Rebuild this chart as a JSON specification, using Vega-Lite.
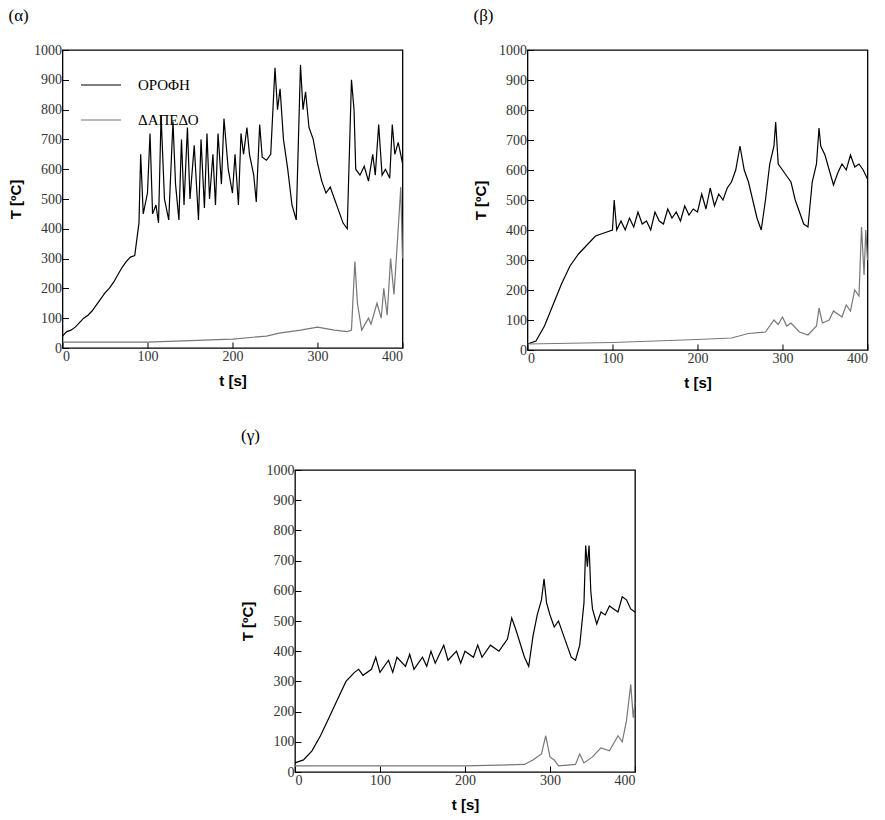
{
  "$schema": "https://vega.github.io/schema/vega-lite/v6.json",
  "background": "white",
  "padding": {"left": 7, "top": 6, "right": 5, "bottom": 5},
  "config": {
    "view": {"stroke": "black", "strokeWidth": 1.3},
    "axis": {"grid": false, "domain": false, "tickSize": -6, "tickColor": "black", "format": "d", "labelFont": "Liberation Serif", "labelFontSize": 14, "labelColor": "#333", "titleFont": "Liberation Sans", "titleFontWeight": "bold", "titleFontSize": 15, "titleColor": "black", "labelPadding": 7, "titlePadding": 10},
    "title": {"font": "Liberation Serif", "fontSize": 17, "fontWeight": "normal", "anchor": "start", "offset": 18, "color": "black"},
    "line": {"strokeWidth": 1.2}
  },
  "datasets": {
    "a": [
      {"t":0,"s":"c","T":40},{"t":5,"s":"c","T":55},{"t":10,"s":"c","T":60},{"t":15,"s":"c","T":70},{"t":20,"s":"c","T":85},{"t":25,"s":"c","T":100},{"t":30,"s":"c","T":110},{"t":35,"s":"c","T":125},{"t":40,"s":"c","T":145},{"t":45,"s":"c","T":165},{"t":50,"s":"c","T":185},{"t":55,"s":"c","T":200},{"t":60,"s":"c","T":220},{"t":65,"s":"c","T":245},{"t":70,"s":"c","T":270},{"t":75,"s":"c","T":290},{"t":80,"s":"c","T":305},{"t":85,"s":"c","T":310},{"t":90,"s":"c","T":420},{"t":92,"s":"c","T":650},{"t":95,"s":"c","T":450},{"t":100,"s":"c","T":520},{"t":103,"s":"c","T":720},{"t":106,"s":"c","T":450},{"t":110,"s":"c","T":480},{"t":113,"s":"c","T":420},{"t":116,"s":"c","T":780},{"t":120,"s":"c","T":500},{"t":125,"s":"c","T":430},{"t":130,"s":"c","T":760},{"t":133,"s":"c","T":550},{"t":137,"s":"c","T":430},{"t":140,"s":"c","T":700},{"t":143,"s":"c","T":480},{"t":147,"s":"c","T":740},{"t":150,"s":"c","T":500},{"t":155,"s":"c","T":680},{"t":160,"s":"c","T":430},{"t":163,"s":"c","T":700},{"t":167,"s":"c","T":470},{"t":170,"s":"c","T":720},{"t":173,"s":"c","T":500},{"t":177,"s":"c","T":650},{"t":180,"s":"c","T":480},{"t":183,"s":"c","T":720},{"t":187,"s":"c","T":550},{"t":190,"s":"c","T":770},{"t":195,"s":"c","T":600},{"t":200,"s":"c","T":520},{"t":203,"s":"c","T":650},{"t":207,"s":"c","T":480},{"t":210,"s":"c","T":720},{"t":213,"s":"c","T":650},{"t":217,"s":"c","T":740},{"t":220,"s":"c","T":650},{"t":225,"s":"c","T":580},{"t":228,"s":"c","T":490},{"t":232,"s":"c","T":750},{"t":235,"s":"c","T":640},{"t":240,"s":"c","T":630},{"t":245,"s":"c","T":650},{"t":250,"s":"c","T":940},{"t":253,"s":"c","T":800},{"t":256,"s":"c","T":870},{"t":260,"s":"c","T":700},{"t":265,"s":"c","T":600},{"t":270,"s":"c","T":480},{"t":275,"s":"c","T":430},{"t":280,"s":"c","T":950},{"t":283,"s":"c","T":800},{"t":286,"s":"c","T":860},{"t":290,"s":"c","T":740},{"t":295,"s":"c","T":700},{"t":300,"s":"c","T":620},{"t":305,"s":"c","T":560},{"t":310,"s":"c","T":520},{"t":315,"s":"c","T":540},{"t":320,"s":"c","T":500},{"t":325,"s":"c","T":460},{"t":330,"s":"c","T":420},{"t":335,"s":"c","T":400},{"t":340,"s":"c","T":900},{"t":343,"s":"c","T":800},{"t":345,"s":"c","T":600},{"t":350,"s":"c","T":580},{"t":355,"s":"c","T":610},{"t":360,"s":"c","T":560},{"t":365,"s":"c","T":650},{"t":368,"s":"c","T":580},{"t":372,"s":"c","T":750},{"t":376,"s":"c","T":580},{"t":380,"s":"c","T":600},{"t":385,"s":"c","T":570},{"t":388,"s":"c","T":750},{"t":391,"s":"c","T":650},{"t":395,"s":"c","T":690},{"t":400,"s":"c","T":620},
      {"t":0,"s":"f","T":20},{"t":100,"s":"f","T":20},{"t":150,"s":"f","T":25},{"t":200,"s":"f","T":30},{"t":240,"s":"f","T":40},{"t":255,"s":"f","T":50},{"t":280,"s":"f","T":60},{"t":300,"s":"f","T":70},{"t":320,"s":"f","T":60},{"t":335,"s":"f","T":55},{"t":340,"s":"f","T":60},{"t":344,"s":"f","T":290},{"t":347,"s":"f","T":150},{"t":352,"s":"f","T":60},{"t":360,"s":"f","T":100},{"t":363,"s":"f","T":80},{"t":370,"s":"f","T":150},{"t":375,"s":"f","T":100},{"t":378,"s":"f","T":200},{"t":382,"s":"f","T":110},{"t":386,"s":"f","T":300},{"t":390,"s":"f","T":180},{"t":395,"s":"f","T":400},{"t":398,"s":"f","T":540},{"t":400,"s":"f","T":300}
    ],
    "b": [
      {"t":0,"s":"c","T":20},{"t":10,"s":"c","T":30},{"t":20,"s":"c","T":80},{"t":30,"s":"c","T":150},{"t":40,"s":"c","T":220},{"t":50,"s":"c","T":280},{"t":60,"s":"c","T":320},{"t":70,"s":"c","T":350},{"t":80,"s":"c","T":380},{"t":90,"s":"c","T":390},{"t":100,"s":"c","T":400},{"t":102,"s":"c","T":500},{"t":105,"s":"c","T":400},{"t":110,"s":"c","T":430},{"t":115,"s":"c","T":400},{"t":120,"s":"c","T":440},{"t":125,"s":"c","T":410},{"t":130,"s":"c","T":460},{"t":135,"s":"c","T":420},{"t":140,"s":"c","T":430},{"t":145,"s":"c","T":400},{"t":150,"s":"c","T":460},{"t":155,"s":"c","T":430},{"t":160,"s":"c","T":420},{"t":165,"s":"c","T":470},{"t":170,"s":"c","T":440},{"t":175,"s":"c","T":460},{"t":180,"s":"c","T":430},{"t":185,"s":"c","T":480},{"t":190,"s":"c","T":450},{"t":195,"s":"c","T":470},{"t":200,"s":"c","T":460},{"t":205,"s":"c","T":520},{"t":210,"s":"c","T":470},{"t":215,"s":"c","T":540},{"t":220,"s":"c","T":480},{"t":225,"s":"c","T":520},{"t":230,"s":"c","T":500},{"t":235,"s":"c","T":540},{"t":240,"s":"c","T":560},{"t":245,"s":"c","T":600},{"t":250,"s":"c","T":680},{"t":255,"s":"c","T":600},{"t":260,"s":"c","T":560},{"t":265,"s":"c","T":500},{"t":270,"s":"c","T":440},{"t":275,"s":"c","T":400},{"t":280,"s":"c","T":500},{"t":285,"s":"c","T":620},{"t":290,"s":"c","T":680},{"t":292,"s":"c","T":760},{"t":295,"s":"c","T":620},{"t":300,"s":"c","T":600},{"t":305,"s":"c","T":580},{"t":310,"s":"c","T":560},{"t":315,"s":"c","T":500},{"t":320,"s":"c","T":460},{"t":325,"s":"c","T":420},{"t":330,"s":"c","T":410},{"t":335,"s":"c","T":560},{"t":340,"s":"c","T":620},{"t":343,"s":"c","T":740},{"t":345,"s":"c","T":680},{"t":350,"s":"c","T":650},{"t":355,"s":"c","T":600},{"t":360,"s":"c","T":550},{"t":365,"s":"c","T":590},{"t":370,"s":"c","T":620},{"t":375,"s":"c","T":600},{"t":380,"s":"c","T":650},{"t":385,"s":"c","T":610},{"t":390,"s":"c","T":620},{"t":395,"s":"c","T":600},{"t":400,"s":"c","T":570},
      {"t":0,"s":"f","T":20},{"t":100,"s":"f","T":25},{"t":200,"s":"f","T":35},{"t":240,"s":"f","T":40},{"t":260,"s":"f","T":55},{"t":280,"s":"f","T":60},{"t":290,"s":"f","T":100},{"t":295,"s":"f","T":85},{"t":300,"s":"f","T":110},{"t":305,"s":"f","T":80},{"t":310,"s":"f","T":90},{"t":320,"s":"f","T":60},{"t":330,"s":"f","T":50},{"t":340,"s":"f","T":80},{"t":343,"s":"f","T":140},{"t":347,"s":"f","T":90},{"t":355,"s":"f","T":100},{"t":360,"s":"f","T":130},{"t":370,"s":"f","T":110},{"t":375,"s":"f","T":150},{"t":380,"s":"f","T":130},{"t":385,"s":"f","T":200},{"t":390,"s":"f","T":180},{"t":393,"s":"f","T":410},{"t":396,"s":"f","T":250},{"t":398,"s":"f","T":400},{"t":400,"s":"f","T":300}
    ],
    "g": [
      {"t":0,"s":"c","T":30},{"t":10,"s":"c","T":40},{"t":20,"s":"c","T":70},{"t":30,"s":"c","T":120},{"t":40,"s":"c","T":180},{"t":50,"s":"c","T":240},{"t":60,"s":"c","T":300},{"t":70,"s":"c","T":330},{"t":75,"s":"c","T":340},{"t":80,"s":"c","T":320},{"t":90,"s":"c","T":340},{"t":95,"s":"c","T":380},{"t":100,"s":"c","T":330},{"t":110,"s":"c","T":370},{"t":115,"s":"c","T":330},{"t":120,"s":"c","T":380},{"t":130,"s":"c","T":350},{"t":135,"s":"c","T":390},{"t":140,"s":"c","T":340},{"t":150,"s":"c","T":380},{"t":155,"s":"c","T":350},{"t":160,"s":"c","T":400},{"t":165,"s":"c","T":360},{"t":170,"s":"c","T":390},{"t":175,"s":"c","T":420},{"t":180,"s":"c","T":370},{"t":190,"s":"c","T":400},{"t":195,"s":"c","T":360},{"t":200,"s":"c","T":400},{"t":210,"s":"c","T":380},{"t":215,"s":"c","T":420},{"t":220,"s":"c","T":380},{"t":230,"s":"c","T":420},{"t":240,"s":"c","T":400},{"t":250,"s":"c","T":440},{"t":255,"s":"c","T":510},{"t":260,"s":"c","T":470},{"t":270,"s":"c","T":380},{"t":275,"s":"c","T":350},{"t":280,"s":"c","T":450},{"t":285,"s":"c","T":520},{"t":290,"s":"c","T":570},{"t":293,"s":"c","T":640},{"t":296,"s":"c","T":560},{"t":300,"s":"c","T":520},{"t":305,"s":"c","T":480},{"t":310,"s":"c","T":500},{"t":315,"s":"c","T":460},{"t":320,"s":"c","T":420},{"t":325,"s":"c","T":380},{"t":330,"s":"c","T":370},{"t":335,"s":"c","T":420},{"t":340,"s":"c","T":560},{"t":342,"s":"c","T":750},{"t":344,"s":"c","T":680},{"t":346,"s":"c","T":750},{"t":348,"s":"c","T":600},{"t":350,"s":"c","T":540},{"t":355,"s":"c","T":490},{"t":360,"s":"c","T":530},{"t":365,"s":"c","T":520},{"t":370,"s":"c","T":550},{"t":375,"s":"c","T":540},{"t":380,"s":"c","T":530},{"t":385,"s":"c","T":580},{"t":390,"s":"c","T":570},{"t":395,"s":"c","T":540},{"t":400,"s":"c","T":530},
      {"t":0,"s":"f","T":20},{"t":100,"s":"f","T":20},{"t":200,"s":"f","T":20},{"t":270,"s":"f","T":25},{"t":280,"s":"f","T":40},{"t":285,"s":"f","T":50},{"t":290,"s":"f","T":60},{"t":295,"s":"f","T":120},{"t":300,"s":"f","T":50},{"t":305,"s":"f","T":40},{"t":310,"s":"f","T":20},{"t":330,"s":"f","T":25},{"t":335,"s":"f","T":60},{"t":340,"s":"f","T":30},{"t":350,"s":"f","T":50},{"t":360,"s":"f","T":80},{"t":370,"s":"f","T":70},{"t":380,"s":"f","T":120},{"t":385,"s":"f","T":100},{"t":390,"s":"f","T":170},{"t":395,"s":"f","T":290},{"t":398,"s":"f","T":180},{"t":400,"s":"f","T":230}
    ]
  },
  "vconcat": [
    {
      "hconcat": [
        {
          "title": "(α)",
          "data": {"name": "a"},
          "width": 340, "height": 298,
          "mark": "line",
          "encoding": {
            "x": {"field": "t", "type": "quantitative", "title": "t [s]", "scale": {"domain": [0, 400], "nice": false}, "axis": {"values": [0, 100, 200, 300, 400]}},
            "y": {"field": "T", "type": "quantitative", "title": "T [ºC]", "scale": {"domain": [0, 1000], "nice": false}, "axis": {"values": [0,100,200,300,400,500,600,700,800,900,1000]}},
            "color": {"field": "s", "type": "nominal", "scale": {"domain": ["c", "f"], "range": ["black", "#777777"]},
              "legend": {"orient": "none", "legendX": 18, "legendY": 14, "title": null, "labelExpr": "datum.value == 'c' ? 'ΟΡΟΦΗ' : 'ΔΑΠΕΔΟ'", "symbolType": "stroke", "symbolSize": 1600, "symbolStrokeWidth": 1.3, "labelFont": "Liberation Serif", "labelFontSize": 15, "labelOffset": 16, "rowPadding": 6}}
          }
        },
        {
          "title": "(β)",
          "data": {"name": "b"},
          "width": 340, "height": 300,
          "mark": "line",
          "encoding": {
            "x": {"field": "t", "type": "quantitative", "title": "t [s]", "scale": {"domain": [0, 400], "nice": false}, "axis": {"values": [0, 100, 200, 300, 400]}},
            "y": {"field": "T", "type": "quantitative", "title": "T [ºC]", "scale": {"domain": [0, 1000], "nice": false}, "axis": {"values": [0,100,200,300,400,500,600,700,800,900,1000]}},
            "color": {"field": "s", "type": "nominal", "legend": null}
          }
        }
      ],
      "spacing": 66
    },
    {
      "title": "(γ)",
      "data": {"name": "g"},
      "width": 340, "height": 302,
      "mark": "line",
      "encoding": {
        "x": {"field": "t", "type": "quantitative", "title": "t [s]", "scale": {"domain": [0, 400], "nice": false}, "axis": {"values": [0, 100, 200, 300, 400]}},
        "y": {"field": "T", "type": "quantitative", "title": "T [ºC]", "scale": {"domain": [0, 1000], "nice": false}, "axis": {"values": [0,100,200,300,400,500,600,700,800,900,1000]}},
        "color": {"field": "s", "type": "nominal", "legend": null}
      }
    }
  ],
  "center": true,
  "spacing": 35
}
